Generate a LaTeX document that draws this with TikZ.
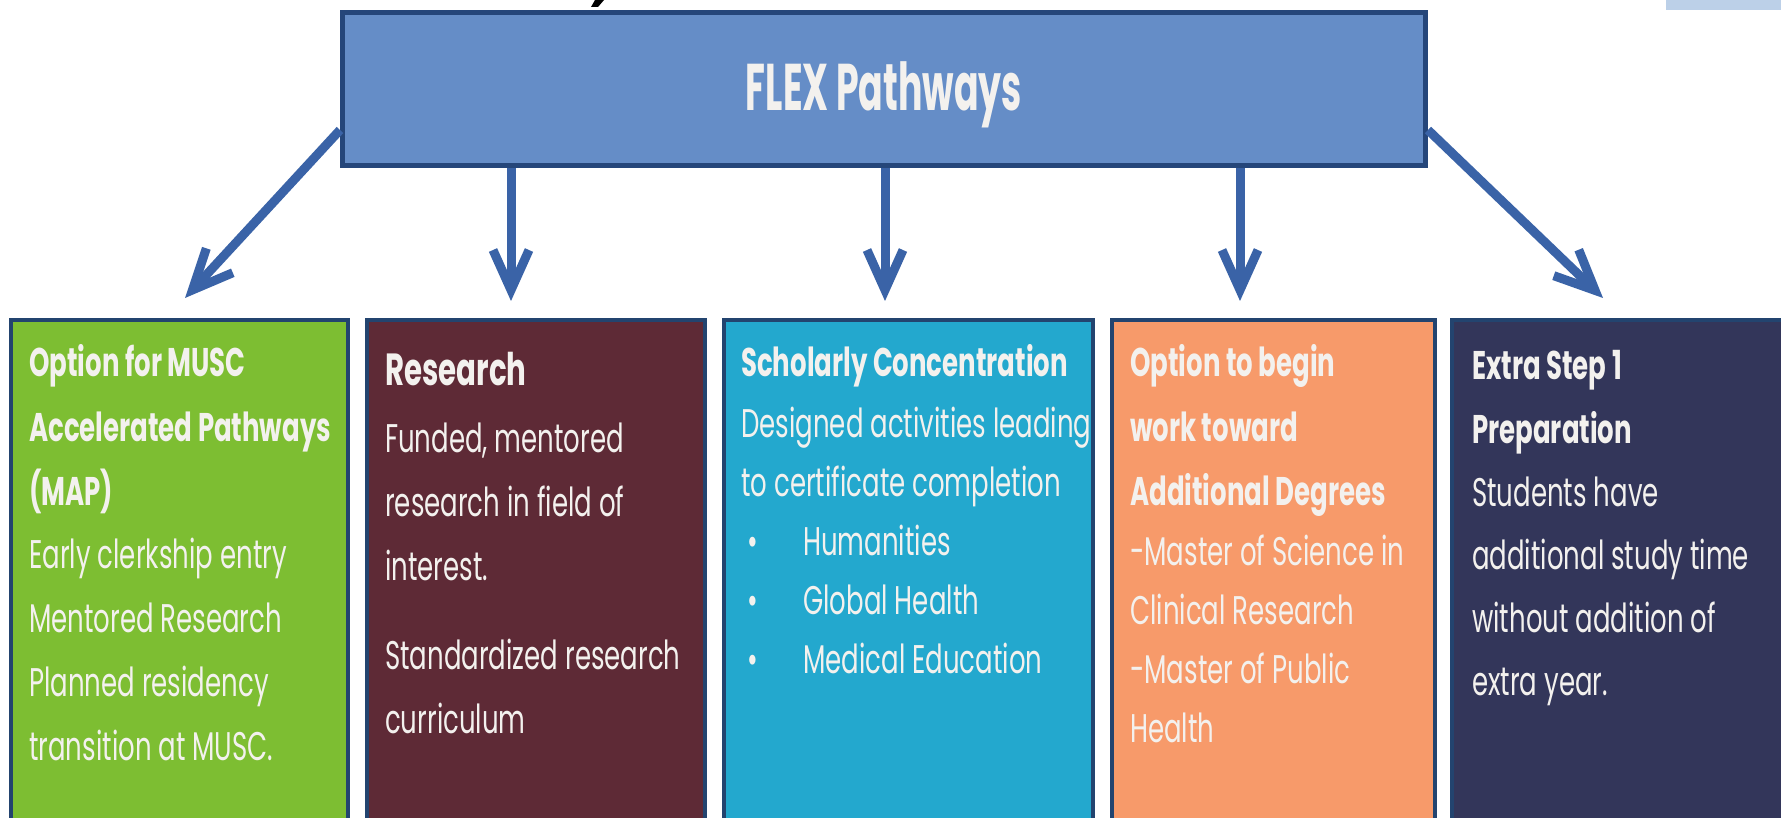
\documentclass[tikz,border=0pt]{standalone}
\usepackage{fontspec}
\setmainfont{Poppins}[FakeStretch=0.65]
\newfontfamily\titlefont{Poppins}[FakeStretch=0.55]
\usetikzlibrary{arrows.meta}
\definecolor{flexfill}{HTML}{658DC7}
\definecolor{flexbord}{HTML}{25467A}
\definecolor{bordc}{HTML}{23446F}
\definecolor{arrowc}{HTML}{3A63A7}
\definecolor{greenc}{HTML}{7DBE32}
\definecolor{maroonc}{HTML}{5E2A36}
\definecolor{cyanc}{HTML}{23A8CE}
\definecolor{orangec}{HTML}{F79A6A}
\definecolor{navyc}{HTML}{33365A}
\definecolor{txtc}{HTML}{F3F1EE}
\definecolor{lightbl}{HTML}{BCD0E8}
\begin{document}
\begin{tikzpicture}[x=1pt,y=-1pt,
  box/.style={draw=bordc, line width=4pt, rectangle, inner sep=0pt, outer sep=0pt, anchor=north west, minimum height=540pt},
  bd/.style={anchor=base west, inner sep=0pt, text=txtc, font=\fontsize{40}{48}\selectfont},
  hd/.style={anchor=base west, inner sep=0pt, text=txtc, font=\fontsize{40}{48}\selectfont\bfseries},
  hdl/.style={anchor=base west, inner sep=0pt, text=txtc, font=\fontsize{45}{52}\selectfont\bfseries},
  arr/.style={draw=arrowc, line width=9pt, -{Straight Barb[length=40pt,width=36pt]}}]
\fill[white] (0,0) rectangle (1781,818);
\useasboundingbox (0,0) rectangle (1781,818);
% fragments at the top edge
\fill[lightbl] (1666,0) rectangle (1781,10);
\fill[black] (595,0) -- (604,0) -- (598,7) -- (591,7) -- cycle;
% top box
\node[draw=flexbord, fill=flexfill, line width=5pt, rectangle, inner sep=0pt,
      minimum width=1083pt, minimum height=153pt] (flex) at (884,89) {};
\node[anchor=base, inner sep=0pt, text=txtc, font=\titlefont\fontsize{66}{72}\selectfont\bfseries] (flexlbl) at (884,111) {FLEX Pathways};
% bottom boxes
\node[box, fill=greenc, minimum width=337pt] (green) at (11,320) {};
\node[box, fill=maroonc, minimum width=338pt] (maroon) at (367,320) {};
\node[box, fill=cyanc, minimum width=369pt] (cyan) at (724,320) {};
\node[box, fill=orangec, minimum width=323pt] (orange) at (1112,320) {};
\node[box, fill=navyc, minimum width=360pt] (navy) at (1452,320) {};
% arrows
\coordinate (t1) at (185,298);
\coordinate (t2) at (511,301);
\coordinate (t3) at (885,301);
\coordinate (t4) at (1240,301);
\coordinate (t5) at (1603,298);
\draw[arr] ([yshift=-41pt]flex.west) -- (t1);
\draw[arr] (flex.south -| t2) -- (t2);
\draw[arr] (flex.south -| t3) -- (t3);
\draw[arr] (flex.south -| t4) -- (t4);
\draw[arr] ([yshift=-41pt]flex.east) -- (t5);
% green text
\node[hd] (g1) at (29,377) {Option for MUSC};
\node[hd] (g2) at (29,441) {Accelerated Pathways};
\node[hd] (g3) at (29,505) {(MAP)};
\node[bd] (g4) at (29,568) {Early clerkship entry};
\node[bd] (g5) at (29,632) {Mentored Research};
\node[bd] (g6) at (29,696) {Planned residency};
\node[bd] (g7) at (29,760) {transition at MUSC.};
% maroon text
\node[hdl] (m1) at (385,385) {Research};
\node[bd] (m2) at (385,452) {Funded, mentored};
\node[bd] (m3) at (385,516) {research in field of};
\node[bd] (m4) at (385,580) {interest.};
\node[bd] (m5) at (385,669) {Standardized research};
\node[bd] (m6) at (385,733) {curriculum};
% cyan text
\node[hd] (c1) at (741,377) {Scholarly Concentration};
\node[bd] (c2) at (741,437) {Designed activities leading};
\node[bd] (c3) at (741,496) {to certificate completion};
\node[bd] (c4b) at (747,555) {\textbullet};
\node[bd] (c4) at (803,555) {Humanities};
\node[bd] (c5b) at (747,614) {\textbullet};
\node[bd] (c5) at (803,614) {Global Health};
\node[bd] (c6b) at (747,673) {\textbullet};
\node[bd] (c6) at (803,673) {Medical Education};
% orange text
\node[hd] (o1) at (1130,377) {Option to begin};
\node[hd] (o2) at (1130,441) {work toward};
\node[hd] (o3) at (1130,505) {Additional Degrees};
\node[bd] (o4) at (1130,565) {-Master of Science in};
\node[bd] (o5) at (1130,624) {Clinical Research};
\node[bd] (o6) at (1130,683) {-Master of Public};
\node[bd] (o7) at (1130,742) {Health};
% navy text
\node[hd] (n1) at (1472,380) {Extra Step 1};
\node[hd] (n2) at (1472,443) {Preparation};
\node[bd] (n3) at (1472,506) {Students have};
\node[bd] (n4) at (1472,569) {additional study time};
\node[bd] (n5) at (1472,632) {without addition of};
\node[bd] (n6) at (1472,695) {extra year.};
\end{tikzpicture}
\end{document}
